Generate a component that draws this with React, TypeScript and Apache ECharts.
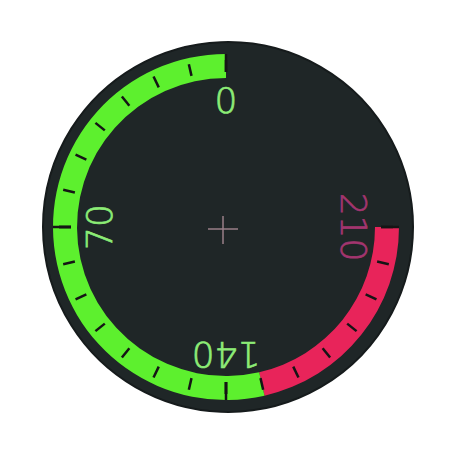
import { useEffect, useRef } from 'react'
import * as echarts from 'echarts'

// scale of the dial (counter-clockwise from 12 o'clock)
const scaleMin = 0
const scaleMax = 210
const majorStep = 70
const minorStep = 10
const tickLabels = ['0', '70', '140', '210']
const labelColors = ['#8cec76', '#8cec76', '#8cec76', '#a3356f']

// coloured zones on the band: upper limit of each zone
const zoneLimits = [150, 210]
const zoneColors = ['#5df02e', '#e8245a']

export default function App() {
  const chartRef = useRef<HTMLDivElement | null>(null)

  useEffect(() => {
    if (!chartRef.current) {
      return
    }

    const chart = echarts.init(chartRef.current, undefined, { renderer: 'svg' })

    const rich: Record<string, object> = {}
    tickLabels.forEach((_, i) => {
      rich['c' + i] = {
        color: labelColors[i],
        fontSize: 36,
        fontFamily: 'DejaVu Sans ExtraLight, DejaVu Sans',
        fontWeight: 200,
        textBorderColor: labelColors[i],
        textBorderWidth: 0.7,
      }
    })

    chart.setOption({
      animation: false,
      backgroundColor: '#ffffff',
      graphic: [
        {
          type: 'circle',
          z: -10,
          shape: { cx: 228, cy: 227, r: 185 },
          style: { fill: '#1f2627', stroke: '#161b1c', lineWidth: 2 },
        },
        {
          type: 'line',
          z: 10,
          shape: { x1: 208, y1: 229, x2: 238, y2: 229 },
          style: { stroke: '#9a7f88', lineWidth: 1.5 },
        },
        {
          type: 'line',
          z: 10,
          shape: { x1: 223, y1: 216, x2: 223, y2: 244 },
          style: { stroke: '#9a7f88', lineWidth: 1.5 },
        },
      ],
      series: [
        {
          type: 'gauge',
          center: [226, 227],
          radius: 173,
          startAngle: 90,
          endAngle: 360,
          clockwise: false,
          min: scaleMin,
          max: scaleMax,
          splitNumber: (scaleMax - scaleMin) / majorStep,
          axisLine: {
            show: true,
            lineStyle: {
              width: 24,
              color: zoneLimits.map((lim, i) => [(lim - scaleMin) / (scaleMax - scaleMin), zoneColors[i]]),
            },
          },
          splitLine: {
            show: true,
            distance: -24,
            length: 18,
            lineStyle: { color: '#151515', width: 2.5 },
          },
          axisTick: {
            show: true,
            splitNumber: majorStep / minorStep,
            distance: -18,
            length: 12,
            lineStyle: { color: '#151515', width: 2.5 },
          },
          axisLabel: {
            show: true,
            distance: 52,
            rotate: 'tangential',
            formatter: (v: number) => {
              const i = tickLabels.indexOf(String(Math.round(v)))
              return i < 0 ? '' : `{c${i}|${tickLabels[i]}}`
            },
            rich,
          },
          pointer: { show: false },
          anchor: { show: false },
          title: { show: false },
          detail: { show: false },
          data: [{ value: scaleMin }],
        },
      ],
    })

    return () => {
      chart.dispose()
    }
  }, [])

  return (
    <div
      ref={chartRef}
      style={{ position: 'absolute', left: 0, top: 0, width: 458, height: 458 }}
    />
  )
}
